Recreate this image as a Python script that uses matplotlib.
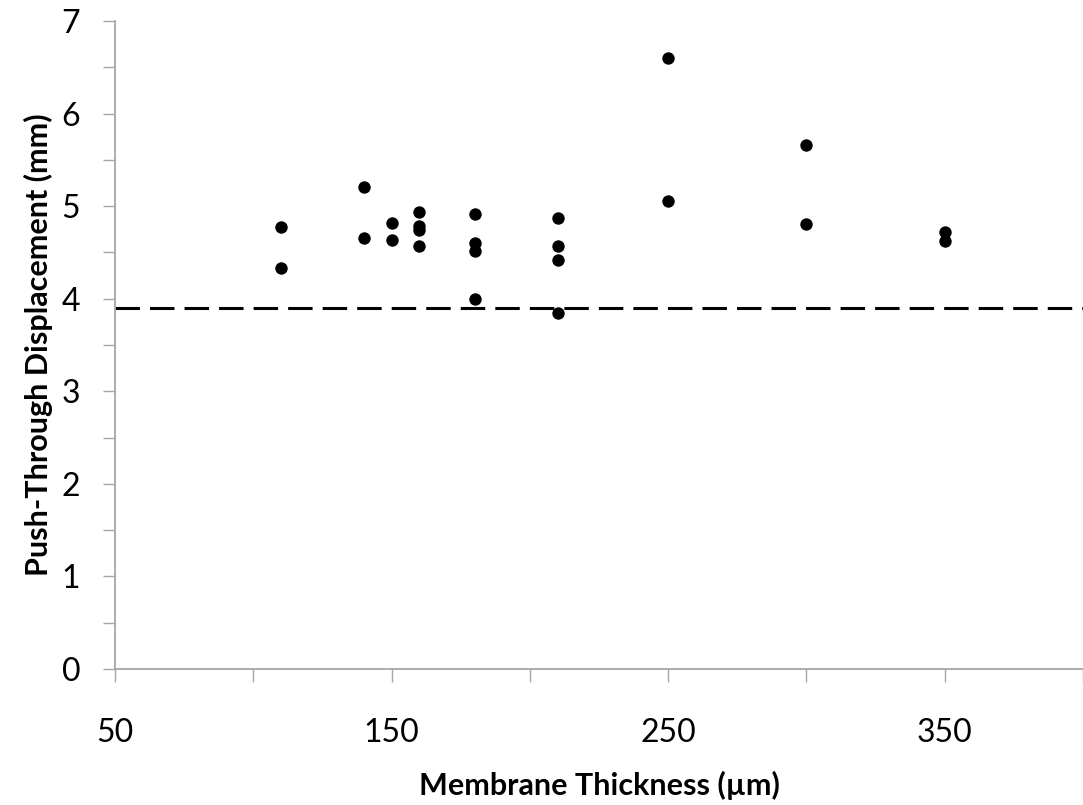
import matplotlib.pyplot as plt
from matplotlib.ticker import MultipleLocator, FuncFormatter

# membrane thickness (um) and push-through displacement (mm)
thickness = [110, 110, 140, 140, 150, 150, 160, 160, 160, 160,
             180, 180, 180, 180, 210, 210, 210, 210, 250, 250,
             300, 300, 350, 350]
displacement = [4.77, 4.33, 5.21, 4.65, 4.82, 4.63, 4.94, 4.79, 4.74, 4.57,
                4.91, 4.60, 4.51, 4.00, 4.87, 4.57, 4.42, 3.84, 6.60, 5.05,
                5.66, 4.81, 4.72, 4.62]
threshold = 3.9

x_labels = [50, 150, 250, 350]
y_labels = [0, 1, 2, 3, 4, 5, 6, 7]

plt.rcParams['font.family'] = ['Lato', 'DejaVu Sans']

fig = plt.figure(figsize=(10.83, 8.05), dpi=100)
ax = fig.add_axes([0.1062, 0.169, 0.8938, 0.805])

ax.scatter(thickness, displacement, s=80, color='black', zorder=3, linewidths=0)
ax.axhline(threshold, color='black', linewidth=2.2, dashes=(8, 3.3), zorder=2)

ax.set_xlim(50, 400)
ax.set_ylim(0, 7)
ax.xaxis.set_major_locator(MultipleLocator(50))
ax.yaxis.set_major_locator(MultipleLocator(0.5))
ax.xaxis.set_major_formatter(FuncFormatter(lambda v, p: f"{int(v)}" if int(round(v)) in x_labels else ""))
ax.yaxis.set_major_formatter(FuncFormatter(lambda v, p: f"{int(v)}" if abs(v - round(v)) < 1e-6 and int(round(v)) in y_labels else ""))

for side in ['top', 'right']:
    ax.spines[side].set_visible(False)
for side in ['left', 'bottom']:
    ax.spines[side].set_color('#a6a6a6')
    ax.spines[side].set_linewidth(1.3)

ax.tick_params(axis='both', direction='out', length=9, width=1.0, color='#a6a6a6',
               labelsize=23, labelcolor='black')
ax.tick_params(axis='x', pad=26)
ax.tick_params(axis='y', pad=16)

ax.set_xlabel('Membrane Thickness (µm)', fontsize=22, fontweight='bold', labelpad=17)
ax.set_ylabel('Push-Through Displacement (mm)', fontsize=22, fontweight='bold', labelpad=6)

fig.savefig('out.png', dpi=100)
